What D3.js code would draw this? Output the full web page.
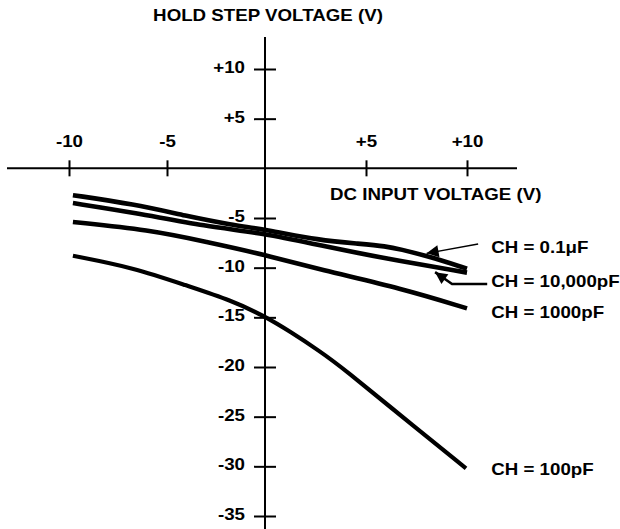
<!DOCTYPE html>
<html>
<head>
<meta charset="utf-8">
<script src="https://cdn.jsdelivr.net/npm/d3@7"></script>
<style>
  body { margin: 0; background: #fff; }
</style>
</head>
<body>
<div id="chart"></div>
<script>
// axis ticks
var xTicks = [-10, -5, 5, 10];
var yTicks = [10, 5, -5, -10, -15, -20, -25, -30, -35];

// hold step curves (DC input V -> hold step V)
var x01uF = [-9.8, -6.7, -4, -1.7, 0, 2.7, 4.7, 6, 6.7, 8, 10];
var y01uF = [-2.7, -3.6, -4.8, -5.7, -6.15, -7.25, -7.6, -7.85, -8.15, -8.8, -10.1];

var x10000pF = [-9.8, -6.7, -3, 0, 2.7, 6, 10];
var y10000pF = [-3.5, -4.45, -5.85, -6.55, -7.75, -9.1, -10.5];

var x1000pF = [-9.8, -5.9, -3, 0, 2.7, 6.8, 10];
var y1000pF = [-5.4, -6.2, -7.4, -8.7, -10.2, -12.1, -14.1];

var x100pF = [-9.8, -6.7, -4, -1.7, -0.1, 1.3, 2.7, 3.8, 7.5, 9.95];
var y100pF = [-8.8, -10.0, -11.8, -13.3, -14.8, -16.5, -18.4, -20, -26.2, -30.2];

var seriesLabels = ["CH = 0.1\u03BCF", "CH = 10,000pF", "CH = 1000pF", "CH = 100pF"];
var labelY = [-8.55, -11.95, -15.05, -30.9];

var width = 620, height = 529;
var font = "'Liberation Sans', Arial, Helvetica, sans-serif";
var stretch = 1.17; // the source text is a bit wide

var svg = d3.select("#chart")
  .append("svg")
  .attr("width", width)
  .attr("height", height)
  .attr("font-family", font)
  .attr("font-weight", "bold")
  .attr("font-size", 16);

var x = d3.scaleLinear().domain([-10, 0, 10]).range([69, 265, 467]);
var y = d3.scaleLinear().domain([-35, 10]).range([516, 69]);

function fmt(d) { return d > 0 ? "+" + d : "" + d; }

// plain axis lines through the origin
svg.append("line")
  .attr("x1", 7).attr("x2", 517)
  .attr("y1", y(0)).attr("y2", y(0))
  .attr("stroke", "#000").attr("stroke-width", 2);
svg.append("line")
  .attr("x1", x(0)).attr("x2", x(0))
  .attr("y1", 37).attr("y2", height)
  .attr("stroke", "#000").attr("stroke-width", 2);

var gx = svg.append("g")
  .attr("transform", "translate(0," + y(0) + ")")
  .call(d3.axisTop(x).tickValues(xTicks).tickFormat(fmt).tickSize(8).tickSizeOuter(0));
gx.attr("font-family", font).attr("font-size", 16);
gx.select(".domain").remove();
gx.selectAll(".tick line").attr("y1", 8).attr("stroke-width", 2);
gx.selectAll(".tick text")
  .attr("y", 0).attr("dy", null)
  .attr("transform", "translate(0,-21) scale(" + stretch + ",1)");

var gy = svg.append("g")
  .attr("transform", "translate(" + x(0) + ",0)")
  .call(d3.axisLeft(y).tickValues(yTicks).tickFormat(fmt).tickSize(11).tickSizeOuter(0));
gy.attr("font-family", font).attr("font-size", 16);
gy.select(".domain").remove();
gy.selectAll(".tick line").attr("x1", 11).attr("stroke-width", 2);
gy.selectAll(".tick text")
  .attr("x", 0).attr("dy", null)
  .attr("transform", "translate(-20,3.5) scale(" + stretch + ",1)");

function addText(str, px, py, anchor) {
  svg.append("text")
    .attr("transform", "translate(" + px + "," + py + ") scale(" + stretch + ",1)")
    .attr("text-anchor", anchor)
    .text(str);
}

addText("HOLD STEP VOLTAGE (V)", 268, 21, "middle");
addText("DC INPUT VOLTAGE (V)", 330, 200, "start");

// curves
var line = d3.line()
  .x(function(d) { return x(d[0]); })
  .y(function(d) { return y(d[1]); })
  .curve(d3.curveBasis);

var curves = [
  {xs: x01uF, ys: y01uF, w: 4.6},
  {xs: x10000pF, ys: y10000pF, w: 4.6},
  {xs: x1000pF, ys: y1000pF, w: 4.6},
  {xs: x100pF, ys: y100pF, w: 4.2}
];

curves.forEach(function(c) {
  svg.append("path")
    .datum(d3.zip(c.xs, c.ys))
    .attr("d", line)
    .attr("fill", "none")
    .attr("stroke", "#000")
    .attr("stroke-width", c.w);
});

// labels on the right
seriesLabels.forEach(function(s, i) {
  addText(s, x(11.2), y(labelY[i]), "start");
});

// arrows pointing at the two top curves
svg.append("defs").append("marker")
  .attr("id", "arrow")
  .attr("viewBox", "0 0 10 10")
  .attr("refX", 10).attr("refY", 5)
  .attr("markerUnits", "userSpaceOnUse")
  .attr("markerWidth", 17).attr("markerHeight", 12)
  .attr("orient", "auto")
  .append("path")
    .attr("d", "M0,0 L10,5 L0,10 z")
    .attr("fill", "#000");

var arrow01uF = [[10.55, -7.62], [8.0, -8.56]];
var arrow10000pF = [[11.0, -11.65], [9.26, -11.65], [8.42, -10.45]];

var arrowLine = d3.line()
  .x(function(d) { return x(d[0]); })
  .y(function(d) { return y(d[1]); });

svg.append("path")
  .attr("d", arrowLine(arrow01uF))
  .attr("fill", "none").attr("stroke", "#000").attr("stroke-width", 1.5)
  .attr("marker-end", "url(#arrow)");
svg.append("path")
  .attr("d", arrowLine(arrow10000pF))
  .attr("fill", "none").attr("stroke", "#000").attr("stroke-width", 2.5)
  .attr("marker-end", "url(#arrow)");
</script>
</body>
</html>
